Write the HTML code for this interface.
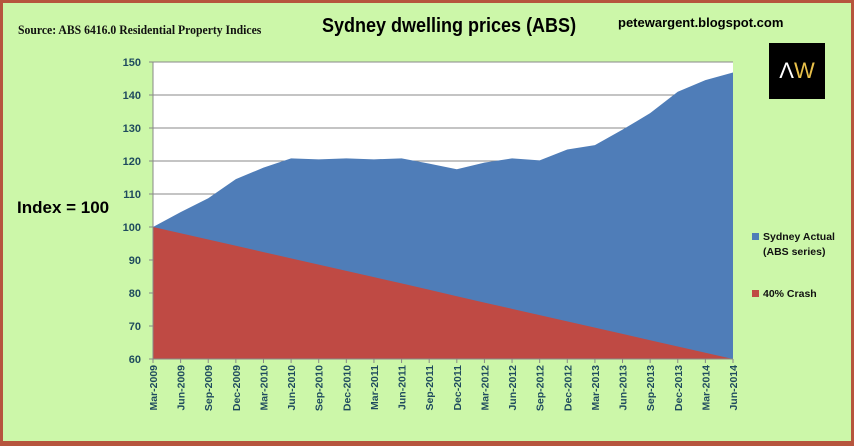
<!DOCTYPE html>
<html><head><meta charset="utf-8"><style>
html,body{margin:0;padding:0;}
body{width:854px;height:446px;overflow:hidden;background:#b6553d;}
#frame{position:absolute;left:3px;top:3px;width:848px;height:438px;background:#ccf7a9;}
.t{position:absolute;white-space:nowrap;}
</style></head><body>
<div id="frame"></div>
<div class="t" style="left:18px;top:22px;font:bold 13px 'Liberation Serif',serif;color:#111;transform:scaleX(0.9);transform-origin:left">Source: ABS 6416.0 Residential Property Indices</div>
<div class="t" style="left:322px;top:15px;font:bold 20px 'Liberation Sans',sans-serif;color:#000;transform:scaleX(0.9);transform-origin:left">Sydney dwelling prices (ABS)</div>
<div class="t" style="left:618px;top:15px;font:bold 13px 'Liberation Sans',sans-serif;color:#000">petewargent.blogspot.com</div>
<div style="position:absolute;left:769px;top:43px;width:56px;height:56px;background:#000;color:#fff;font:22px 'Liberation Sans',sans-serif;text-align:center;line-height:56px">Λ<span style="color:#e8c04a">W</span></div>
<div class="t" style="left:17px;top:198px;font:bold 17px 'Liberation Sans',sans-serif;color:#000">Index = 100</div>
<svg id="chart" width="854" height="446" style="position:absolute;left:0;top:0"></svg>
<script>
const categories=["Mar-2009","Jun-2009","Sep-2009","Dec-2009","Mar-2010","Jun-2010","Sep-2010","Dec-2010","Mar-2011","Jun-2011","Sep-2011","Dec-2011","Mar-2012","Jun-2012","Sep-2012","Dec-2012","Mar-2013","Jun-2013","Sep-2013","Dec-2013","Mar-2014","Jun-2014"];
const sydneyActual=[100,104.5,108.7,114.5,118,120.8,120.5,120.8,120.5,120.8,119.2,117.5,119.5,120.8,120.2,123.5,124.8,129.5,134.5,141,144.5,146.8];
const crash=[100,98.1,96.2,94.3,92.4,90.5,88.6,86.7,84.8,82.9,81,79,77.1,75.2,73.3,71.4,69.5,67.6,65.7,63.8,61.9,60];
const yTicks=[60,70,80,90,100,110,120,130,140,150];
const legendLabels=[["Sydney Actual","(ABS series)"],["40% Crash"]];
const NS="http://www.w3.org/2000/svg";
const svg=document.getElementById('chart');
const L=153,R=733,T=62,B=359,ymin=60,ymax=150;
const x=i=>L+(R-L)*i/(categories.length-1);
const y=v=>B-(B-T)*(v-ymin)/(ymax-ymin);
function mk(tag,attrs){const e=document.createElementNS(NS,tag);for(const k in attrs)e.setAttribute(k,attrs[k]);svg.appendChild(e);return e;}
const bg=mk('rect',{x:L,y:T,width:R-L,height:B-T,fill:'#fff'});


yTicks.forEach(v=>{
 if(v>ymin){const g=mk('line',{x1:L,x2:R,y1:y(v),y2:y(v),stroke:'#8a8a8a','stroke-width':1});
 
 }
 const t=mk('text',{x:L-12,y:y(v)+4,'text-anchor':'end','font-family':'Liberation Sans,sans-serif','font-size':11,'font-weight':'bold',fill:'#1f4b5e'});
 t.textContent=v;
 
 
 mk('line',{x1:L-4,x2:L,y1:y(v),y2:y(v),stroke:'#888'});
});
function area(vals,fill,name){
 let d='M'+x(0)+','+y(ymin);
 vals.forEach((v,i)=>{d+=' L'+x(i)+','+y(v);});
 d+=' L'+x(vals.length-1)+','+y(ymin)+' Z';
 const p=mk('path',{d:d,fill:fill});
 
 
}
area(sydneyActual,'#4f7db8','sydney-actual-area');
area(crash,'#bf4a44','crash-area');
mk('line',{x1:L,x2:L,y1:T,y2:B,stroke:'#888'});
mk('line',{x1:L,x2:R,y1:B,y2:B,stroke:'#888'});
categories.forEach((c,i)=>{
 mk('line',{x1:x(i),x2:x(i),y1:B,y2:B+4,stroke:'#888'});
 const t=mk('text',{transform:'translate('+(x(i)+4)+','+(B+6)+') rotate(-90)','text-anchor':'end','font-family':'Liberation Sans,sans-serif','font-size':10.5,'font-weight':'bold',fill:'#1f4b5e'});
 t.textContent=c;
 
 
});
const legCols=['#4f7db8','#bf4a44'];
const legY=[240,297];
legendLabels.forEach((lines,k)=>{
 const r=mk('rect',{x:752,y:legY[k]-7,width:7,height:7,fill:legCols[k]});
 
 
 lines.forEach((s,j)=>{
  const t=mk('text',{x:763,y:legY[k]+j*15,'font-family':'Liberation Sans,sans-serif','font-size':10.5,'font-weight':'bold',fill:'#111'});
  t.textContent=s;
  
  
 });
});
</script>
</body></html>
